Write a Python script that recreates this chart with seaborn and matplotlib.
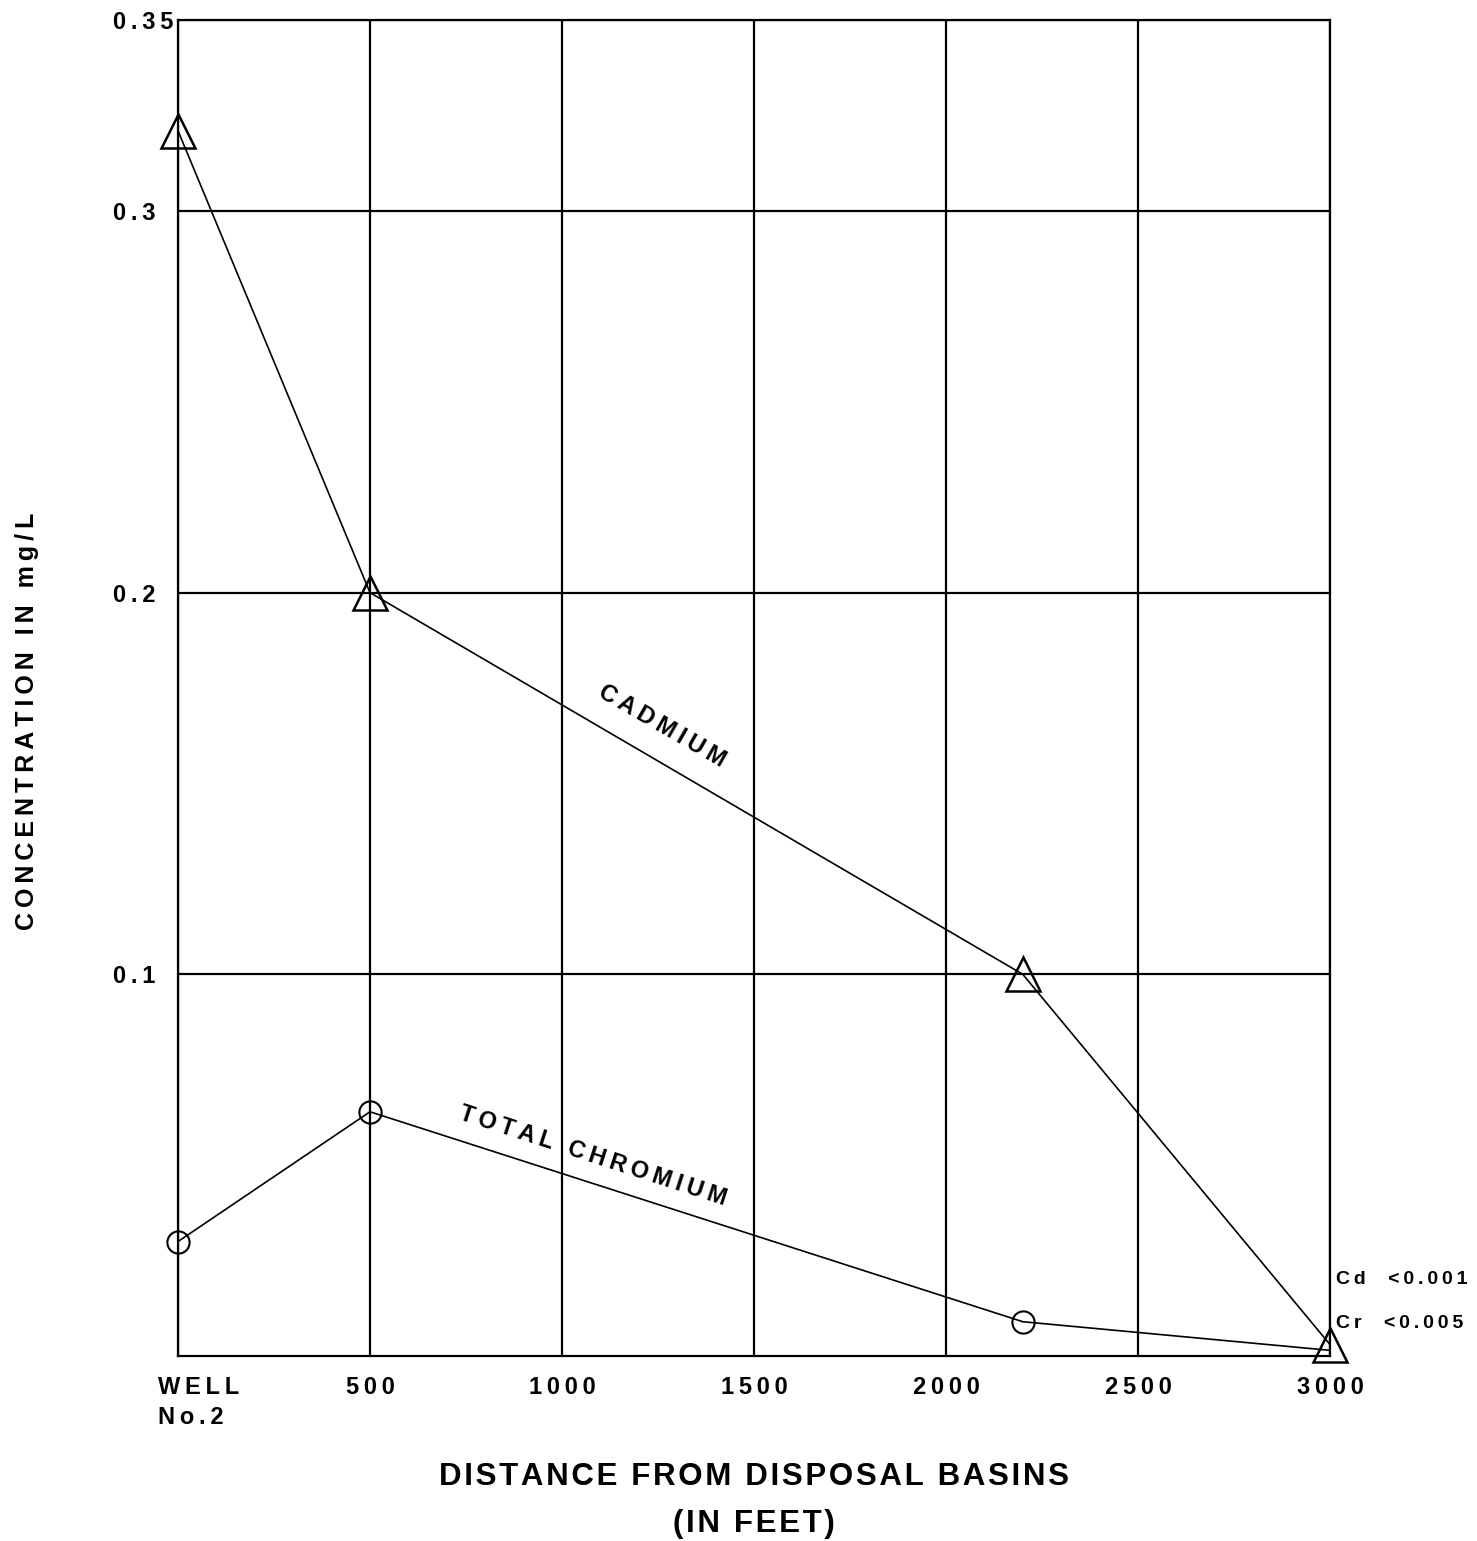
import numpy as np
import pandas as pd
import matplotlib
matplotlib.use("Agg")
import matplotlib.pyplot as plt
import matplotlib.transforms as mtransforms
import seaborn as sns

# valores
distancia = [0, 500, 2200, 3000]
cadmio = [0.321, 0.200, 0.100, 0.003]
cromio = [0.030, 0.064, 0.009, 0.0015]

x_ticks = [0, 500, 1000, 1500, 2000, 2500, 3000]
x_labels = ["WELL\nNo.2", "500", "1000", "1500", "2000", "2500", "3000"]
y_ticks = [0.1, 0.2, 0.3, 0.35]
y_labels = ["0.1", "0.2", "0.3", "0.35"]


def espacado(texto, sep="\u2009"):
    # letras afastadas como no desenho original
    return "\n".join(sep.join(linha) for linha in texto.split("\n"))


sns.set_style("white")
plt.rcParams["font.family"] = ["Liberation Sans", "DejaVu Sans"]
plt.rcParams["font.weight"] = "bold"
plt.rcParams["text.color"] = "black"
plt.rcParams["axes.labelcolor"] = "black"
plt.rcParams["xtick.color"] = "black"
plt.rcParams["ytick.color"] = "black"

fig = plt.figure(figsize=(14.77, 15.41), dpi=100)
ax = fig.add_axes([0.1205, 0.12, 0.78, 0.867])

df = pd.DataFrame({"DIST": distancia, "CD": cadmio, "CR": cromio})

sns.lineplot(x="DIST", y="CD", data=df, ax=ax, color="black", linewidth=1.2,
             marker="^", markersize=24, markerfacecolor="none",
             markeredgecolor="black", markeredgewidth=1.8, clip_on=False, zorder=5)
sns.lineplot(x="DIST", y="CR", data=df.iloc[:3], ax=ax, color="black", linewidth=1.2,
             marker="o", markersize=16, markerfacecolor="none",
             markeredgecolor="black", markeredgewidth=1.5, clip_on=False, zorder=5)
# ultimo troco do cromio acaba no triangulo
sns.lineplot(x="DIST", y="CR", data=df.iloc[2:], ax=ax, color="black", linewidth=1.2,
             marker=None, clip_on=False, zorder=5)

ax.set_xlim(0, 3000)
ax.set_ylim(0, 0.35)
ax.set_xticks(x_ticks)
ax.set_xticklabels([espacado(t) for t in x_labels], fontsize=17, fontweight="bold",
                   linespacing=1.4)
ax.set_yticks(y_ticks)
ax.set_yticklabels([espacado(t) for t in y_labels], fontsize=17, fontweight="bold")
ax.tick_params(axis="x", length=0, pad=14)
ax.tick_params(axis="y", length=0, pad=47)
for lbl in ax.get_yticklabels():
    lbl.set_horizontalalignment("left")

# WELL No.2 alinhado a esquerda e um pouco deslocado
primeiro = ax.get_xticklabels()[0]
primeiro.set_multialignment("left")
primeiro.set_transform(primeiro.get_transform()
                       + mtransforms.ScaledTranslation(15 / 72, 0, fig.dpi_scale_trans))

ax.grid(True, color="black", linewidth=1.6)
for s in ax.spines.values():
    s.set_color("black")
    s.set_linewidth(1.6)

ax.set_xlabel(espacado("DISTANCE FROM DISPOSAL BASINS\n(IN FEET)", sep="\u200a"),
              fontsize=22.5, fontweight="bold", labelpad=24, linespacing=1.75)
ax.set_ylabel(espacado("CONCENTRATION IN mg/L"), fontsize=18, fontweight="bold")
ax.yaxis.set_label_coords(-0.121, 0.475)

ax.text(1260, 0.165, espacado("CADMIUM"), rotation=-30, fontsize=17, fontweight="bold",
        ha="center", va="center")
ax.text(1080, 0.0525, espacado("TOTAL CHROMIUM"), rotation=-18, fontsize=17,
        fontweight="bold", ha="center", va="center")
ax.text(3015, 0.020, espacado("Cd  <0.001"), fontsize=14, fontweight="bold",
        ha="left", va="center", clip_on=False)
ax.text(3015, 0.0085, espacado("Cr  <0.005"), fontsize=14, fontweight="bold",
        ha="left", va="center", clip_on=False)

fig.savefig("out.png", dpi=100)
